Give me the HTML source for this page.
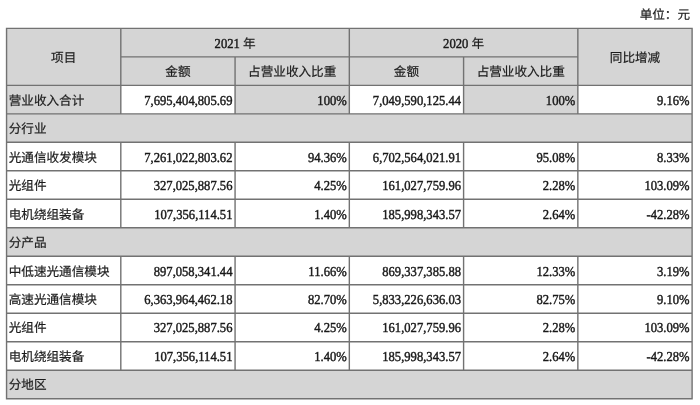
<!DOCTYPE html>
<html lang="zh-CN"><head><meta charset="utf-8">
<style>
html,body{margin:0;padding:0;background:#fff;}
#w{position:relative;width:700px;height:405px;overflow:hidden;background:#fff;font-family:"Liberation Serif",serif;color:#1a1a1a;filter:grayscale(1) blur(0.3px);text-rendering:geometricPrecision;}
svg{position:absolute;left:0;top:0;}
.t{position:absolute;display:flex;align-items:center;box-sizing:border-box;white-space:nowrap;line-height:1;}
.c{justify-content:center;}
.l{justify-content:flex-start;padding-left:2.2px;}
.r{justify-content:flex-end;padding-right:2.6px;}
.n{font-size:12.6px;letter-spacing:0px;display:inline-block;transform:translateY(0.5px) scaleY(1.09);transform-origin:50% 2px;-webkit-text-stroke:0.4px #1a1a1a;white-space:pre;}
.r .n{margin-right:0px;}
.k{font-size:12.6px;position:relative;top:1.0px;-webkit-text-stroke:0.2px #222;}
#unit{position:absolute;right:10px;top:3px;}
</style></head><body><div id="w">
<svg width="700" height="405" viewBox="0 0 700 405">
<rect x="6.55" y="28.36" width="685.56" height="370.37" fill="#d5d5d5"/>
<rect x="120.81" y="85.34" width="114.26" height="28.49" fill="#fff"/>
<rect x="349.33" y="85.34" width="114.26" height="28.49" fill="#fff"/>
<rect x="577.85" y="85.34" width="114.26" height="28.49" fill="#fff"/>
<rect x="6.55" y="142.32" width="114.26" height="28.49" fill="#fff"/>
<rect x="120.81" y="142.32" width="114.26" height="28.49" fill="#fff"/>
<rect x="235.07" y="142.32" width="114.26" height="28.49" fill="#fff"/>
<rect x="349.33" y="142.32" width="114.26" height="28.49" fill="#fff"/>
<rect x="463.59" y="142.32" width="114.26" height="28.49" fill="#fff"/>
<rect x="577.85" y="142.32" width="114.26" height="28.49" fill="#fff"/>
<rect x="6.55" y="170.81" width="114.26" height="28.49" fill="#fff"/>
<rect x="120.81" y="170.81" width="114.26" height="28.49" fill="#fff"/>
<rect x="235.07" y="170.81" width="114.26" height="28.49" fill="#fff"/>
<rect x="349.33" y="170.81" width="114.26" height="28.49" fill="#fff"/>
<rect x="463.59" y="170.81" width="114.26" height="28.49" fill="#fff"/>
<rect x="577.85" y="170.81" width="114.26" height="28.49" fill="#fff"/>
<rect x="6.55" y="199.30" width="114.26" height="28.49" fill="#fff"/>
<rect x="120.81" y="199.30" width="114.26" height="28.49" fill="#fff"/>
<rect x="235.07" y="199.30" width="114.26" height="28.49" fill="#fff"/>
<rect x="349.33" y="199.30" width="114.26" height="28.49" fill="#fff"/>
<rect x="463.59" y="199.30" width="114.26" height="28.49" fill="#fff"/>
<rect x="577.85" y="199.30" width="114.26" height="28.49" fill="#fff"/>
<rect x="6.55" y="256.28" width="114.26" height="28.49" fill="#fff"/>
<rect x="120.81" y="256.28" width="114.26" height="28.49" fill="#fff"/>
<rect x="235.07" y="256.28" width="114.26" height="28.49" fill="#fff"/>
<rect x="349.33" y="256.28" width="114.26" height="28.49" fill="#fff"/>
<rect x="463.59" y="256.28" width="114.26" height="28.49" fill="#fff"/>
<rect x="577.85" y="256.28" width="114.26" height="28.49" fill="#fff"/>
<rect x="6.55" y="284.77" width="114.26" height="28.49" fill="#fff"/>
<rect x="120.81" y="284.77" width="114.26" height="28.49" fill="#fff"/>
<rect x="235.07" y="284.77" width="114.26" height="28.49" fill="#fff"/>
<rect x="349.33" y="284.77" width="114.26" height="28.49" fill="#fff"/>
<rect x="463.59" y="284.77" width="114.26" height="28.49" fill="#fff"/>
<rect x="577.85" y="284.77" width="114.26" height="28.49" fill="#fff"/>
<rect x="6.55" y="313.26" width="114.26" height="28.49" fill="#fff"/>
<rect x="120.81" y="313.26" width="114.26" height="28.49" fill="#fff"/>
<rect x="235.07" y="313.26" width="114.26" height="28.49" fill="#fff"/>
<rect x="349.33" y="313.26" width="114.26" height="28.49" fill="#fff"/>
<rect x="463.59" y="313.26" width="114.26" height="28.49" fill="#fff"/>
<rect x="577.85" y="313.26" width="114.26" height="28.49" fill="#fff"/>
<rect x="6.55" y="341.75" width="114.26" height="28.49" fill="#fff"/>
<rect x="120.81" y="341.75" width="114.26" height="28.49" fill="#fff"/>
<rect x="235.07" y="341.75" width="114.26" height="28.49" fill="#fff"/>
<rect x="349.33" y="341.75" width="114.26" height="28.49" fill="#fff"/>
<rect x="463.59" y="341.75" width="114.26" height="28.49" fill="#fff"/>
<rect x="577.85" y="341.75" width="114.26" height="28.49" fill="#fff"/>
<path d="M5.85 28.36H692.81 M5.85 398.73H692.81 M6.55 28.36V398.73 M692.11 28.36V398.73 M120.81 56.85H577.85 M6.55 85.34H692.11 M6.55 113.83H692.11 M6.55 142.32H692.11 M6.55 170.81H692.11 M6.55 199.30H692.11 M6.55 227.79H692.11 M6.55 256.28H692.11 M6.55 284.77H692.11 M6.55 313.26H692.11 M6.55 341.75H692.11 M6.55 370.24H692.11 M120.81 28.36V113.83 M349.33 28.36V113.83 M577.85 28.36V113.83 M235.07 56.85V113.83 M463.59 56.85V113.83 M120.81 142.32V227.79 M235.07 142.32V227.79 M349.33 142.32V227.79 M463.59 142.32V227.79 M577.85 142.32V227.79 M120.81 256.28V370.24 M235.07 256.28V370.24 M349.33 256.28V370.24 M463.59 256.28V370.24 M577.85 256.28V370.24" stroke="#727272" stroke-width="1.4" fill="none"/>
</svg>
<div class="t c" style="left:6.55px;top:28.36px;width:114.26px;height:56.98px"><span><span class="k">项目</span></span></div>
<div class="t c" style="left:120.81px;top:28.36px;width:228.52px;height:28.49px"><span><span class="n">2021 </span><span class="k">年</span></span></div>
<div class="t c" style="left:349.33px;top:28.36px;width:228.52px;height:28.49px"><span><span class="n">2020 </span><span class="k">年</span></span></div>
<div class="t c" style="left:577.85px;top:28.36px;width:114.26px;height:56.98px"><span><span class="k">同比增减</span></span></div>
<div class="t c" style="left:120.81px;top:56.85px;width:114.26px;height:28.49px"><span><span class="k">金额</span></span></div>
<div class="t c" style="left:235.07px;top:56.85px;width:114.26px;height:28.49px"><span><span class="k">占营业收入比重</span></span></div>
<div class="t c" style="left:349.33px;top:56.85px;width:114.26px;height:28.49px"><span><span class="k">金额</span></span></div>
<div class="t c" style="left:463.59px;top:56.85px;width:114.26px;height:28.49px"><span><span class="k">占营业收入比重</span></span></div>
<div class="t l" style="left:6.55px;top:85.34px;width:114.26px;height:28.49px"><span><span class="k">营业收入合计</span></span></div>
<div class="t r" style="left:120.81px;top:85.34px;width:114.26px;height:28.49px"><span><span class="n">7,695,404,805.69</span></span></div>
<div class="t r" style="left:235.07px;top:85.34px;width:114.26px;height:28.49px"><span><span class="n">100%</span></span></div>
<div class="t r" style="left:349.33px;top:85.34px;width:114.26px;height:28.49px"><span><span class="n">7,049,590,125.44</span></span></div>
<div class="t r" style="left:463.59px;top:85.34px;width:114.26px;height:28.49px"><span><span class="n">100%</span></span></div>
<div class="t r" style="left:577.85px;top:85.34px;width:114.26px;height:28.49px"><span><span class="n">9.16%</span></span></div>
<div class="t l" style="left:6.55px;top:113.83px;width:685.56px;height:28.49px"><span><span class="k">分行业</span></span></div>
<div class="t l" style="left:6.55px;top:142.32px;width:114.26px;height:28.49px"><span><span class="k">光通信收发模块</span></span></div>
<div class="t r" style="left:120.81px;top:142.32px;width:114.26px;height:28.49px"><span><span class="n">7,261,022,803.62</span></span></div>
<div class="t r" style="left:235.07px;top:142.32px;width:114.26px;height:28.49px"><span><span class="n">94.36%</span></span></div>
<div class="t r" style="left:349.33px;top:142.32px;width:114.26px;height:28.49px"><span><span class="n">6,702,564,021.91</span></span></div>
<div class="t r" style="left:463.59px;top:142.32px;width:114.26px;height:28.49px"><span><span class="n">95.08%</span></span></div>
<div class="t r" style="left:577.85px;top:142.32px;width:114.26px;height:28.49px"><span><span class="n">8.33%</span></span></div>
<div class="t l" style="left:6.55px;top:170.81px;width:114.26px;height:28.49px"><span><span class="k">光组件</span></span></div>
<div class="t r" style="left:120.81px;top:170.81px;width:114.26px;height:28.49px"><span><span class="n">327,025,887.56</span></span></div>
<div class="t r" style="left:235.07px;top:170.81px;width:114.26px;height:28.49px"><span><span class="n">4.25%</span></span></div>
<div class="t r" style="left:349.33px;top:170.81px;width:114.26px;height:28.49px"><span><span class="n">161,027,759.96</span></span></div>
<div class="t r" style="left:463.59px;top:170.81px;width:114.26px;height:28.49px"><span><span class="n">2.28%</span></span></div>
<div class="t r" style="left:577.85px;top:170.81px;width:114.26px;height:28.49px"><span><span class="n">103.09%</span></span></div>
<div class="t l" style="left:6.55px;top:199.30px;width:114.26px;height:28.49px"><span><span class="k">电机绕组装备</span></span></div>
<div class="t r" style="left:120.81px;top:199.30px;width:114.26px;height:28.49px"><span><span class="n">107,356,114.51</span></span></div>
<div class="t r" style="left:235.07px;top:199.30px;width:114.26px;height:28.49px"><span><span class="n">1.40%</span></span></div>
<div class="t r" style="left:349.33px;top:199.30px;width:114.26px;height:28.49px"><span><span class="n">185,998,343.57</span></span></div>
<div class="t r" style="left:463.59px;top:199.30px;width:114.26px;height:28.49px"><span><span class="n">2.64%</span></span></div>
<div class="t r" style="left:577.85px;top:199.30px;width:114.26px;height:28.49px"><span><span class="n">-42.28%</span></span></div>
<div class="t l" style="left:6.55px;top:227.79px;width:685.56px;height:28.49px"><span><span class="k">分产品</span></span></div>
<div class="t l" style="left:6.55px;top:256.28px;width:114.26px;height:28.49px"><span><span class="k">中低速光通信模块</span></span></div>
<div class="t r" style="left:120.81px;top:256.28px;width:114.26px;height:28.49px"><span><span class="n">897,058,341.44</span></span></div>
<div class="t r" style="left:235.07px;top:256.28px;width:114.26px;height:28.49px"><span><span class="n">11.66%</span></span></div>
<div class="t r" style="left:349.33px;top:256.28px;width:114.26px;height:28.49px"><span><span class="n">869,337,385.88</span></span></div>
<div class="t r" style="left:463.59px;top:256.28px;width:114.26px;height:28.49px"><span><span class="n">12.33%</span></span></div>
<div class="t r" style="left:577.85px;top:256.28px;width:114.26px;height:28.49px"><span><span class="n">3.19%</span></span></div>
<div class="t l" style="left:6.55px;top:284.77px;width:114.26px;height:28.49px"><span><span class="k">高速光通信模块</span></span></div>
<div class="t r" style="left:120.81px;top:284.77px;width:114.26px;height:28.49px"><span><span class="n">6,363,964,462.18</span></span></div>
<div class="t r" style="left:235.07px;top:284.77px;width:114.26px;height:28.49px"><span><span class="n">82.70%</span></span></div>
<div class="t r" style="left:349.33px;top:284.77px;width:114.26px;height:28.49px"><span><span class="n">5,833,226,636.03</span></span></div>
<div class="t r" style="left:463.59px;top:284.77px;width:114.26px;height:28.49px"><span><span class="n">82.75%</span></span></div>
<div class="t r" style="left:577.85px;top:284.77px;width:114.26px;height:28.49px"><span><span class="n">9.10%</span></span></div>
<div class="t l" style="left:6.55px;top:313.26px;width:114.26px;height:28.49px"><span><span class="k">光组件</span></span></div>
<div class="t r" style="left:120.81px;top:313.26px;width:114.26px;height:28.49px"><span><span class="n">327,025,887.56</span></span></div>
<div class="t r" style="left:235.07px;top:313.26px;width:114.26px;height:28.49px"><span><span class="n">4.25%</span></span></div>
<div class="t r" style="left:349.33px;top:313.26px;width:114.26px;height:28.49px"><span><span class="n">161,027,759.96</span></span></div>
<div class="t r" style="left:463.59px;top:313.26px;width:114.26px;height:28.49px"><span><span class="n">2.28%</span></span></div>
<div class="t r" style="left:577.85px;top:313.26px;width:114.26px;height:28.49px"><span><span class="n">103.09%</span></span></div>
<div class="t l" style="left:6.55px;top:341.75px;width:114.26px;height:28.49px"><span><span class="k">电机绕组装备</span></span></div>
<div class="t r" style="left:120.81px;top:341.75px;width:114.26px;height:28.49px"><span><span class="n">107,356,114.51</span></span></div>
<div class="t r" style="left:235.07px;top:341.75px;width:114.26px;height:28.49px"><span><span class="n">1.40%</span></span></div>
<div class="t r" style="left:349.33px;top:341.75px;width:114.26px;height:28.49px"><span><span class="n">185,998,343.57</span></span></div>
<div class="t r" style="left:463.59px;top:341.75px;width:114.26px;height:28.49px"><span><span class="n">2.64%</span></span></div>
<div class="t r" style="left:577.85px;top:341.75px;width:114.26px;height:28.49px"><span><span class="n">-42.28%</span></span></div>
<div class="t l" style="left:6.55px;top:370.24px;width:685.56px;height:28.49px"><span><span class="k">分地区</span></span></div>
<div id="unit"><span class="k">单位：元</span></div>
</div></body></html>
